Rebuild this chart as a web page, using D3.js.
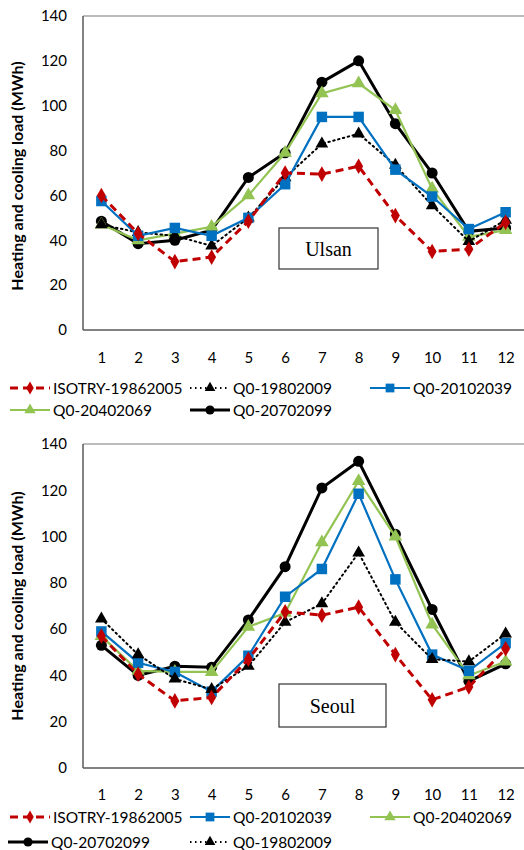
<!DOCTYPE html>
<html>
<head>
<meta charset="utf-8">
<script src="https://cdn.jsdelivr.net/npm/d3@7"></script>
<style>
  body { margin: 0; background: #fff; }
  text { font-family: Lato, "Noto Sans", sans-serif; }
</style>
</head>
<body>
<div class="chart"></div>
<script>
// months on the x axis
var months = [1, 2, 3, 4, 5, 6, 7, 8, 9, 10, 11, 12];
var yTicks = [0, 20, 40, 60, 80, 100, 120, 140];

// Ulsan
var ulsanIsotry = [60, 43, 30.5, 32.5, 48.5, 70, 69.5, 73, 51, 35, 36, 48];
var ulsanQ1980 = [47, 43.5, 42, 37.5, 50, 68, 83, 87.5, 73.5, 55.5, 39.5, 49];
var ulsanQ2010 = [57.5, 42, 45.5, 42, 50, 65, 95, 95, 71.5, 59.5, 45, 52.5];
var ulsanQ2040 = [47, 40, 43, 46, 60, 79, 105.5, 110, 98, 63, 41.5, 44.5];
var ulsanQ2070 = [48.5, 38.5, 40, 44.5, 68, 79, 110.5, 120, 92, 70, 44, 45.5];

// Seoul
var seoulIsotry = [57, 40.5, 29, 30.5, 47, 67.5, 66, 69.5, 49, 29.5, 35, 51.5];
var seoulQ1980 = [64.5, 49, 38.5, 34, 44, 63, 71, 93, 63, 47, 46, 58];
var seoulQ2010 = [59, 45.5, 41.5, 33, 48.5, 74, 86, 118.5, 81.5, 49, 42, 54];
var seoulQ2040 = [57, 42, 41.5, 41.5, 61, 67, 97.5, 124, 100, 62, 40, 46];
var seoulQ2070 = [53, 40, 44, 43.5, 64, 87, 121, 132.5, 101, 68.5, 37.5, 45];

var styles = {
  isotry: { name: "ISOTRY-19862005", color: "#c00000", width: 3, dash: "8,5", symbol: d3.symbolDiamond, size: 70 },
  q1980: { name: "Q0-19802009", color: "#000", width: 2, dash: "1.5,3.5", symbol: d3.symbolTriangle, size: 70 },
  q2010: { name: "Q0-20102039", color: "#0070c0", width: 2.2, dash: null, symbol: d3.symbolSquare, size: 110 },
  q2040: { name: "Q0-20402069", color: "#92c353", width: 2.2, dash: null, symbol: d3.symbolTriangle, size: 80 },
  q2070: { name: "Q0-20702099", color: "#000", width: 3, dash: null, symbol: d3.symbolCircle, size: 95 }
};

var svgWidth = 524, svgHeight = 850;
var svg = d3.select(".chart").append("svg")
  .attr("width", svgWidth)
  .attr("height", svgHeight);

function drawPanel(p) {
  var g = svg.append("g");
  var x = d3.scalePoint().domain(months).range([83, 524]).padding(0.5);
  var y = d3.scaleLinear().domain([0, 140]).range([p.bottom, p.top]);

  // frame
  g.append("line").attr("x1", 83).attr("x2", 524).attr("y1", p.top).attr("y2", p.top)
    .attr("stroke", "#a6a6a6").attr("stroke-width", 1.5);
  g.append("line").attr("x1", 83).attr("x2", 83).attr("y1", p.top).attr("y2", p.bottom)
    .attr("stroke", "#595959").attr("stroke-width", 1.5);
  g.append("line").attr("x1", 83).attr("x2", 524).attr("y1", p.bottom).attr("y2", p.bottom)
    .attr("stroke", "#595959").attr("stroke-width", 1.5);

  var yAxis = g.append("g").attr("transform", "translate(83,0)")
    .call(d3.axisLeft(y).tickValues(yTicks).tickSize(0).tickPadding(16));
  yAxis.select(".domain").remove();
  yAxis.selectAll("text").attr("font-size", "15px").attr("fill", "#000")
    .style("font-family", "Lato, sans-serif");

  var xAxis = g.append("g").attr("transform", "translate(0," + p.bottom + ")")
    .call(d3.axisBottom(x).tickSize(0).tickPadding(p.xPad));
  xAxis.select(".domain").remove();
  xAxis.selectAll("text").attr("font-size", "15px").attr("fill", "#000")
    .style("font-family", "Lato, sans-serif");

  g.append("text")
    .attr("transform", "translate(23," + p.titleY + ") rotate(-90)")
    .attr("text-anchor", "middle")
    .attr("font-size", "16px")
    .attr("font-weight", "bold")
    .text("Heating and cooling load (MWh)");

  // city label box
  g.append("rect").attr("x", p.box[0]).attr("y", p.box[1]).attr("width", p.box[2]).attr("height", p.box[3])
    .attr("fill", "#fff").attr("stroke", "#333").attr("stroke-width", 1.2);
  g.append("text")
    .attr("x", p.box[0] + p.box[2] / 2).attr("y", p.box[1] + p.box[3] / 2 + 7)
    .attr("text-anchor", "middle")
    .style("font-family", "'Liberation Serif', serif")
    .attr("font-size", "20px")
    .text(p.city);

  var line = d3.line().x(function(d, i) { return x(months[i]); }).y(function(d) { return y(d); });

  p.series.forEach(function(s) {
    var st = styles[s.key];
    g.append("path").datum(s.values)
      .attr("d", line)
      .attr("fill", "none")
      .attr("stroke", st.color)
      .attr("stroke-width", st.width)
      .attr("stroke-dasharray", st.dash)
      .attr("stroke-linecap", st.dash && st.width < 3 ? "round" : "butt");
    g.selectAll(null).data(s.values).enter().append("path")
      .attr("d", d3.symbol().type(st.symbol).size(st.size))
      .attr("transform", function(d, i) { return "translate(" + x(months[i]) + "," + y(d) + ")"; })
      .attr("fill", st.color);
  });

  // legend
  p.legend.forEach(function(item) {
    var st = styles[item.key];
    var lg = g.append("g").attr("transform", "translate(" + item.x + "," + item.y + ")");
    lg.append("line").attr("x1", 0).attr("x2", 40).attr("y1", 0).attr("y2", 0)
      .attr("stroke", st.color)
      .attr("stroke-width", st.width)
      .attr("stroke-dasharray", st.dash);
    lg.append("path").attr("d", d3.symbol().type(st.symbol).size(st.size * 0.7))
      .attr("transform", "translate(20,0)").attr("fill", st.color);
    lg.append("text").attr("x", 43).attr("y", 5.5)
      .attr("font-size", "15.5px")
      .text(st.name);
  });
}

drawPanel({
  top: 16, bottom: 330, xPad: 22, titleY: 176, city: "Ulsan",
  box: [279, 228, 99, 41],
  series: [
    { key: "q2070", values: ulsanQ2070 },
    { key: "q2040", values: ulsanQ2040 },
    { key: "q1980", values: ulsanQ1980 },
    { key: "q2010", values: ulsanQ2010 },
    { key: "isotry", values: ulsanIsotry }
  ],
  legend: [
    { key: "isotry", x: 10, y: 388 },
    { key: "q1980", x: 190, y: 388 },
    { key: "q2010", x: 370, y: 388 },
    { key: "q2040", x: 10, y: 410 },
    { key: "q2070", x: 190, y: 410 }
  ]
});

drawPanel({
  top: 444, bottom: 768, xPad: 21, titleY: 606, city: "Seoul",
  box: [279, 684, 107, 43],
  series: [
    { key: "q2070", values: seoulQ2070 },
    { key: "q2040", values: seoulQ2040 },
    { key: "q2010", values: seoulQ2010 },
    { key: "q1980", values: seoulQ1980 },
    { key: "isotry", values: seoulIsotry }
  ],
  legend: [
    { key: "isotry", x: 10, y: 817 },
    { key: "q2010", x: 190, y: 817 },
    { key: "q2040", x: 370, y: 817 },
    { key: "q2070", x: 8, y: 842 },
    { key: "q1980", x: 190, y: 842 }
  ]
});
</script>
</body>
</html>
